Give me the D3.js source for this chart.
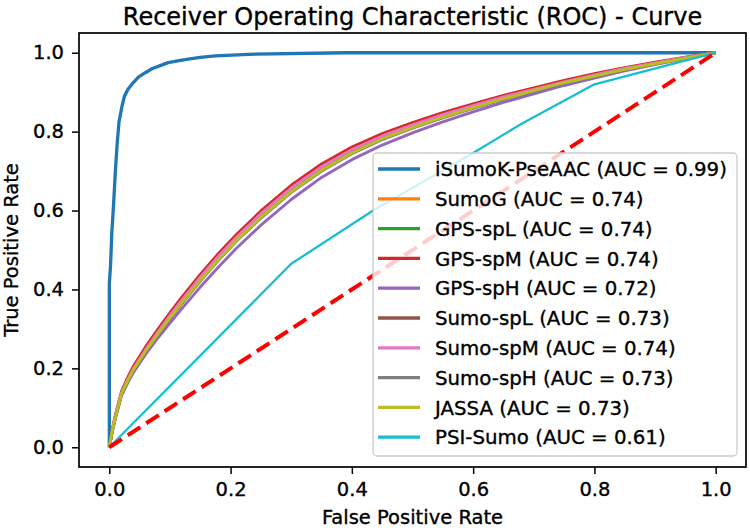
<!DOCTYPE html>
<html>
<head>
<meta charset="utf-8">
<script src="https://cdn.jsdelivr.net/npm/d3@7"></script>
<style>
  html, body { margin: 0; padding: 0; background: #fff; }
  svg { display: block; }
  text { font-family: "DejaVu Sans", sans-serif; fill: #000; stroke: #000; stroke-width: 0.35px; }
</style>
</head>
<body>
<svg id="chart" width="750" height="530"></svg>
<script>
// ---------------- data ----------------
const title = "Receiver Operating Characteristic (ROC) - Curve";
const xLabel = "False Positive Rate";
const yLabel = "True Positive Rate";
const tickValues = [0.0, 0.2, 0.4, 0.6, 0.8, 1.0];
const tickLabels = ["0.0", "0.2", "0.4", "0.6", "0.8", "1.0"];

const seriesNames = ["iSumoK-PseAAC", "SumoG", "GPS-spL", "GPS-spM", "GPS-spH",
  "Sumo-spL", "Sumo-spM", "Sumo-spH", "JASSA", "PSI-Sumo"];
const aucValues = ["0.99", "0.74", "0.74", "0.74", "0.72", "0.73", "0.74", "0.73", "0.73", "0.61"];
const colors = ["#1f77b4", "#ff7f0e", "#2ca02c", "#d62728", "#9467bd",
  "#8c564b", "#e377c2", "#7f7f7f", "#bcbd22", "#17becf"];

// iSumoK-PseAAC
const fprISumo = [0, 0, 0.002, 0.004, 0.007, 0.010, 0.013, 0.016, 0.021, 0.025, 0.031, 0.040,
  0.048, 0.060, 0.071, 0.085, 0.097, 0.115, 0.130, 0.150, 0.175, 0.230, 0.390, 1.0];
const tprISumo = [0, 0.415, 0.460, 0.540, 0.615, 0.700, 0.770, 0.825, 0.865, 0.890, 0.908, 0.925,
  0.938, 0.950, 0.960, 0.968, 0.975, 0.980, 0.984, 0.988, 0.992, 0.996, 1.0, 1.0];

// shared FPR grid for the eight tool curves
const fprTools = [0, 0.005, 0.01, 0.02, 0.03, 0.04, 0.06, 0.08, 0.10, 0.12, 0.15, 0.18, 0.21, 0.25,
  0.30, 0.35, 0.40, 0.45, 0.50, 0.55, 0.60, 0.65, 0.70, 0.75, 0.80, 0.85, 0.90, 0.95, 1.0];
const tprSumoG   = [0, 0.043, 0.078, 0.136, 0.170, 0.199, 0.247, 0.291, 0.333, 0.372, 0.429, 0.482, 0.531, 0.590,
  0.655, 0.709, 0.752, 0.787, 0.815, 0.841, 0.864, 0.886, 0.906, 0.925, 0.943, 0.959, 0.973, 0.987, 1.0];
const tprGPSspL  = [0, 0.042, 0.077, 0.135, 0.169, 0.198, 0.246, 0.290, 0.332, 0.371, 0.428, 0.481, 0.530, 0.589,
  0.654, 0.708, 0.751, 0.786, 0.814, 0.840, 0.863, 0.885, 0.905, 0.925, 0.942, 0.958, 0.973, 0.987, 1.0];
const tprGPSspM  = [0, 0.046, 0.082, 0.141, 0.176, 0.206, 0.255, 0.299, 0.341, 0.381, 0.438, 0.491, 0.540, 0.599,
  0.664, 0.718, 0.761, 0.795, 0.823, 0.848, 0.870, 0.892, 0.911, 0.930, 0.947, 0.962, 0.976, 0.989, 1.0];
const tprGPSspH  = [0, 0.041, 0.074, 0.130, 0.162, 0.190, 0.236, 0.277, 0.315, 0.352, 0.406, 0.457, 0.505, 0.563,
  0.628, 0.684, 0.729, 0.766, 0.797, 0.825, 0.850, 0.874, 0.896, 0.917, 0.936, 0.954, 0.970, 0.985, 1.0];
const tprSumoSpL = [0, 0.042, 0.076, 0.134, 0.167, 0.196, 0.243, 0.286, 0.327, 0.366, 0.422, 0.475, 0.524, 0.582,
  0.647, 0.701, 0.745, 0.781, 0.810, 0.836, 0.860, 0.882, 0.903, 0.923, 0.941, 0.957, 0.972, 0.986, 1.0];
const tprSumoSpM = [0, 0.044, 0.079, 0.137, 0.171, 0.200, 0.248, 0.292, 0.334, 0.374, 0.431, 0.484, 0.533, 0.592,
  0.657, 0.711, 0.754, 0.789, 0.817, 0.843, 0.866, 0.888, 0.907, 0.926, 0.944, 0.960, 0.974, 0.988, 1.0];
const tprSumoSpH = [0, 0.041, 0.075, 0.133, 0.166, 0.195, 0.242, 0.285, 0.326, 0.365, 0.421, 0.474, 0.523, 0.581,
  0.646, 0.700, 0.744, 0.780, 0.809, 0.835, 0.859, 0.881, 0.902, 0.922, 0.940, 0.957, 0.972, 0.986, 1.0];
const tprJASSA   = [0, 0.043, 0.077, 0.135, 0.168, 0.197, 0.244, 0.287, 0.328, 0.367, 0.423, 0.476, 0.525, 0.583,
  0.648, 0.702, 0.746, 0.782, 0.811, 0.837, 0.861, 0.883, 0.904, 0.924, 0.941, 0.958, 0.972, 0.986, 1.0];

// PSI-Sumo
const fprPSI = [0, 0.30, 0.435, 0.60, 0.68, 0.80, 1.0];
const tprPSI = [0, 0.465, 0.600, 0.746, 0.820, 0.920, 1.0];

const chanceLine = [[0, 0], [1, 1]];

// ---------------- layout ----------------
const svg = d3.select("#chart");
const pL = 79, pR = 746, pT = 33, pB = 467;
const x = d3.scaleLinear().domain([-0.05, 1.05]).range([pL, pR]);
const y = d3.scaleLinear().domain([-0.05, 1.05]).range([pB, pT]);

const toPairs = (fx, ty) => fx.map((v, i) => [v, ty[i]]);
const curves = [
  toPairs(fprISumo, tprISumo),
  toPairs(fprTools, tprSumoG),
  toPairs(fprTools, tprGPSspL),
  toPairs(fprTools, tprGPSspM),
  toPairs(fprTools, tprGPSspH),
  toPairs(fprTools, tprSumoSpL),
  toPairs(fprTools, tprSumoSpM),
  toPairs(fprTools, tprSumoSpH),
  toPairs(fprTools, tprJASSA),
  toPairs(fprPSI, tprPSI)
];
const widths = [3.3, 2.9, 2.9, 2.9, 2.9, 2.9, 2.9, 2.9, 2.9, 2.3];

svg.append("defs").append("clipPath").attr("id", "plotclip")
  .append("rect").attr("x", pL).attr("y", pT).attr("width", pR - pL).attr("height", pB - pT);

const line = d3.line().x(d => x(d[0])).y(d => y(d[1]));
const plot = svg.append("g").attr("clip-path", "url(#plotclip)");

curves.forEach((c, i) => {
  plot.append("path").datum(c).attr("d", line)
    .attr("fill", "none").attr("stroke", colors[i]).attr("stroke-width", widths[i])
    .attr("stroke-linejoin", "round").attr("stroke-linecap", "butt");
});

plot.append("path").datum(chanceLine).attr("d", line)
  .attr("fill", "none").attr("stroke", "#ff0000").attr("stroke-width", 4)
  .attr("stroke-dasharray", "15,7");

// axes
const xAxis = d3.axisBottom(x).tickValues(tickValues).tickFormat((d, i) => tickLabels[i]).tickSize(7).tickPadding(8);
const yAxis = d3.axisLeft(y).tickValues(tickValues).tickFormat((d, i) => tickLabels[i]).tickSize(7).tickPadding(8);
const gx = svg.append("g").attr("transform", `translate(0,${pB})`).call(xAxis);
const gy = svg.append("g").attr("transform", `translate(${pL},0)`).call(yAxis);
[gx, gy].forEach(g => {
  g.select(".domain").remove();
  g.selectAll(".tick line").attr("stroke", "#000").attr("stroke-width", 1.5);
  g.selectAll(".tick text").attr("font-size", 19.5).attr("font-family", "DejaVu Sans").attr("fill", "#000");
});

// frame
svg.append("rect").attr("x", pL).attr("y", pT).attr("width", pR - pL).attr("height", pB - pT)
  .attr("fill", "none").attr("stroke", "#000").attr("stroke-width", 1.7);

// title & labels
svg.append("text").attr("x", (pL + pR) / 2).attr("y", 25).attr("text-anchor", "middle")
  .attr("font-size", 24).text(title);
svg.append("text").attr("x", (pL + pR) / 2).attr("y", 524).attr("text-anchor", "middle")
  .attr("font-size", 19.5).text(xLabel);
svg.append("text").attr("transform", `translate(18,${(pT + pB) / 2}) rotate(-90)`)
  .attr("text-anchor", "middle").attr("font-size", 19.5).text(yLabel);

// legend
const lg = svg.append("g");
lg.append("rect").attr("x", 373).attr("y", 153).attr("width", 364).attr("height", 303)
  .attr("rx", 4).attr("fill", "#fff").attr("fill-opacity", 0.8)
  .attr("stroke", "#cccccc").attr("stroke-width", 1.3);
seriesNames.forEach((name, i) => {
  const cy = 169 + i * 29.8;
  lg.append("line").attr("x1", 378).attr("x2", 420).attr("y1", cy).attr("y2", cy)
    .attr("stroke", colors[i]).attr("stroke-width", 3.3);
  lg.append("text").attr("x", 435).attr("y", cy).attr("dy", "0.36em")
    .attr("font-size", 19.8).text(`${name} (AUC = ${aucValues[i]})`);
});
</script>
</body>
</html>
